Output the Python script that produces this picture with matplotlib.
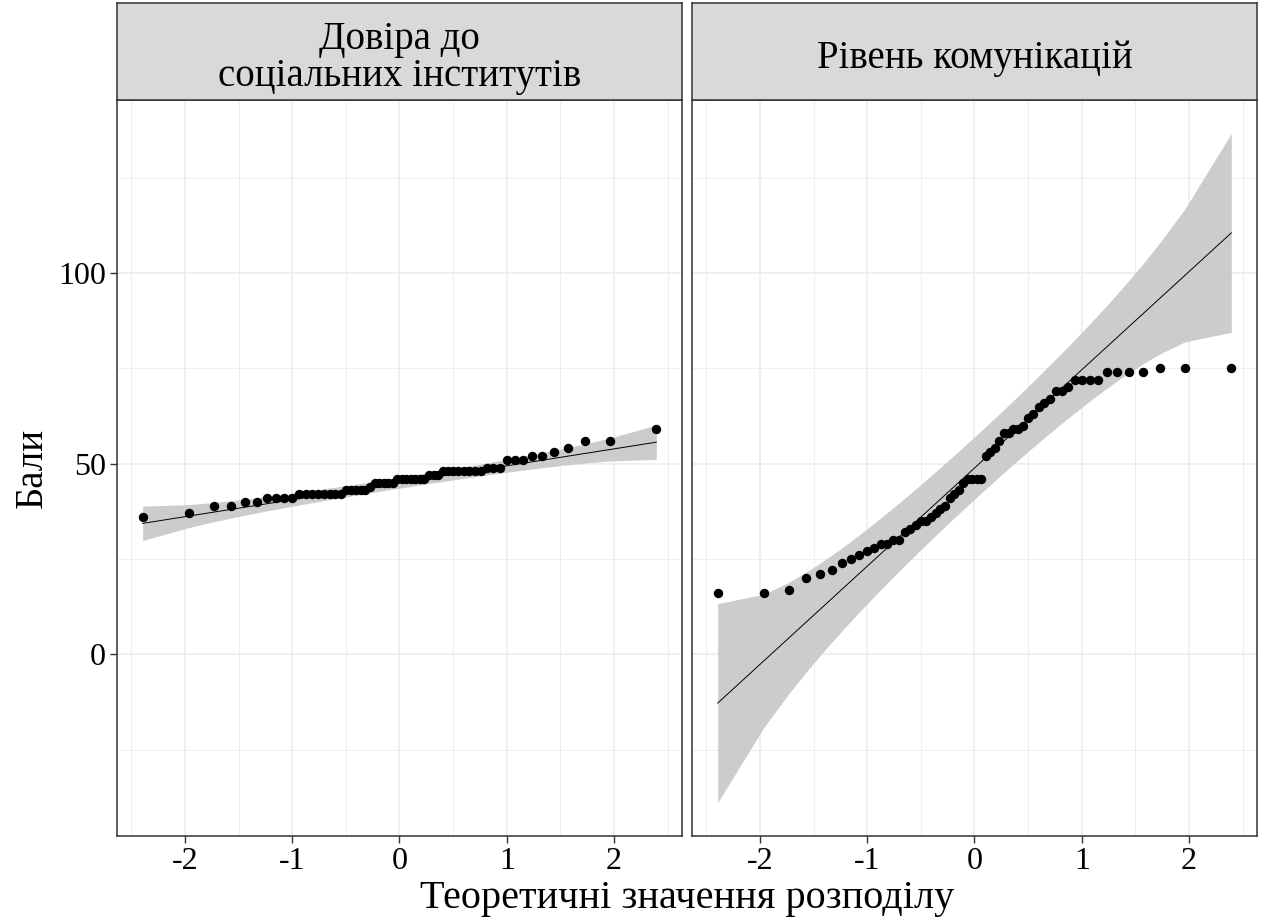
import numpy as np
import matplotlib.pyplot as plt
from statistics import NormalDist

# sorted sample scores (60 respondents per scale)
trust = [36, 37, 39, 39, 40, 40, 41, 41, 41, 41,
         42, 42, 42, 42, 42, 42, 42, 42, 43, 43,
         43, 43, 43, 44, 45, 45, 45, 45, 45, 46,
         46, 46, 46, 46, 46, 46, 47, 47, 47, 48,
         48, 48, 48, 48, 48, 48, 48, 49, 49, 49,
         51, 51, 51, 52, 52, 53, 54, 56, 56, 59]
comm = [16, 16, 17, 20, 21, 22, 24, 25, 26, 27,
        28, 29, 29, 30, 30, 32, 33, 34, 35, 35,
        36, 37, 38, 39, 41, 42, 43, 45, 46, 46,
        46, 46, 52, 53, 54, 56, 58, 58, 59, 59,
        60, 62, 63, 65, 66, 67, 69, 69, 70, 72,
        72, 72, 72, 74, 74, 74, 74, 75, 75, 75]
panel_titles = ["Довіра до\nсоціальних інститутів", "Рівень комунікацій"]
x_ticks = [-2, -1, 0, 1, 2]
x_minor = [-2.5, -1.5, -0.5, 0.5, 1.5, 2.5]
y_ticks = [0, 50, 100]
y_minor = [-25, 25, 75, 125]

plt.rcParams['font.family'] = ['Liberation Serif', 'DejaVu Serif']
plt.rcParams['axes.unicode_minus'] = False

nd = NormalDist()


def qq(sample, conf=0.95):
    y = np.sort(np.asarray(sample, float))
    n = len(y)
    p = (np.arange(1, n + 1) - 0.5) / n
    x = np.array([nd.inv_cdf(v) for v in p])
    q1, q3 = np.quantile(y, [0.25, 0.75])
    slope = (q3 - q1) / (nd.inv_cdf(0.75) - nd.inv_cdf(0.25))
    icpt = q1 - slope * nd.inv_cdf(0.25)
    fit = icpt + slope * x
    se = slope / np.array([nd.pdf(v) for v in x]) * np.sqrt(p * (1 - p) / n)
    z = nd.inv_cdf(1 - (1 - conf) / 2)
    return x, y, fit, fit - z * se, fit + z * se


res = [qq(trust), qq(comm)]

allx = np.concatenate([r[0] for r in res])
ally = np.concatenate([np.concatenate([r[1], r[3], r[4]]) for r in res])
xr = allx.max() - allx.min()
yr = ally.max() - ally.min()
xlim = (allx.min() - 0.05 * xr, allx.max() + 0.05 * xr)
ylim = (ally.min() - 0.05 * yr, ally.max() + 0.05 * yr)

W, H = 1265, 921
fig = plt.figure(figsize=(W / 100, H / 100), dpi=100)

lefts = [117, 692]
pw = 565
ptop, pbot = 100, 836
stop = 3

for k, (x, y, fit, lo, hi) in enumerate(res):
    ax = fig.add_axes([lefts[k] / W, (H - pbot) / H, pw / W, (pbot - ptop) / H])
    ax.set_xlim(xlim)
    ax.set_ylim(ylim)
    for v in x_ticks + x_minor:
        ax.axvline(v, color='#ebebeb', lw=1.1 if v in x_ticks else 0.6, zorder=0)
    for v in y_ticks + y_minor:
        ax.axhline(v, color='#ebebeb', lw=1.1 if v in y_ticks else 0.6, zorder=0)
    ax.fill_between(x, lo, hi, color='#cccccc', lw=0, zorder=1)
    ax.plot(x, fit, color='black', lw=0.7, zorder=2)
    ax.scatter(x, y, s=46, color='black', lw=0, zorder=3)
    ax.set_xticks(x_ticks)
    ax.set_yticks(y_ticks)
    ax.tick_params(length=5, width=1, color='#333333', labelsize=23, labelcolor='black', pad=3)
    if k > 0:
        ax.tick_params(axis='y', left=False, labelleft=False)
    for s in ax.spines.values():
        s.set_color('#333333')
        s.set_linewidth(1.1)

    sx = fig.add_axes([lefts[k] / W, (H - ptop) / H, pw / W, (ptop - stop) / H])
    sx.set_facecolor('#d9d9d9')
    sx.set_xticks([])
    sx.set_yticks([])
    for s in sx.spines.values():
        s.set_color('#333333')
        s.set_linewidth(1.1)
    sx.text(0.5, 0.43, panel_titles[k], ha='center', va='center', fontsize=28,
            linespacing=1.0, transform=sx.transAxes)

fig.text(32 / W, (H - 468) / H, 'Бали', rotation=90, ha='center', va='center', fontsize=28)
fig.text(687 / W, 4 / H, 'Теоретичні значення розподілу', ha='center', va='bottom', fontsize=29)

fig.savefig('out.png', dpi=100)
